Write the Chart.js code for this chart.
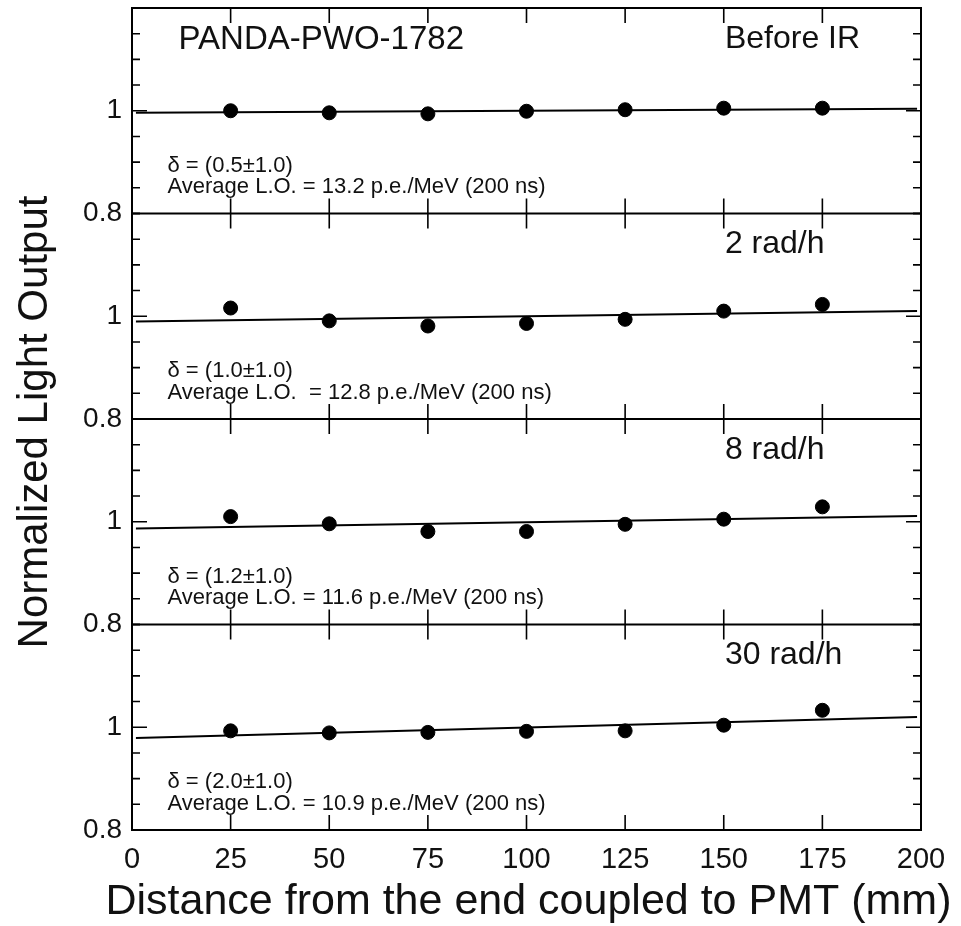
<!DOCTYPE html>
<html>
<head>
<meta charset="utf-8">
<title>Normalized light output</title>
<script src="https://cdn.jsdelivr.net/npm/chart.js@4.4.1/dist/chart.umd.min.js"></script>
<style>
  html, body { margin: 0; padding: 0; background: #fff; }
  #wrap { width: 961px; height: 926px; }
</style>
</head>
<body>
<div id="wrap"><canvas id="lightChart" width="961" height="926"></canvas></div>
<script>
// measured positions along the crystal (mm)
const distances = [25, 50, 75, 100, 125, 150, 175];
const xTicks = [0, 25, 50, 75, 100, 125, 150, 175, 200];
const yTickValues = [0.8, 0.85, 0.9, 0.95, 1.0, 1.05, 1.1, 1.15, 1.2];

// normalized light output, one list per irradiation step (top to bottom)
const beforeIR = [1.000, 0.996, 0.994, 0.999, 1.002, 1.005, 1.005];
const rate2 = [1.016, 0.991, 0.981, 0.986, 0.994, 1.010, 1.023];
const rate8 = [1.010, 0.996, 0.981, 0.981, 0.995, 1.005, 1.029];
const rate30 = [0.993, 0.989, 0.990, 0.992, 0.993, 1.004, 1.033];

// linear fits, values at both ends of the crystal
const fitX = [1, 199];
const fitBeforeIR = [0.996, 1.004];
const fit2 = [0.990, 1.010];
const fit8 = [0.987, 1.011];
const fit30 = [0.979, 1.020];

const panelLabels = ['Before IR', '2 rad/h', '8 rad/h', '30 rad/h'];
const deltaTexts = ['\u03b4 = (0.5\u00b11.0)', '\u03b4 = (1.0\u00b11.0)', '\u03b4 = (1.2\u00b11.0)', '\u03b4 = (2.0\u00b11.0)'];
const avgTexts = [
  'Average L.O. = 13.2 p.e./MeV (200 ns)',
  'Average L.O.  = 12.8 p.e./MeV (200 ns)',
  'Average L.O. = 11.6 p.e./MeV (200 ns)',
  'Average L.O. = 10.9 p.e./MeV (200 ns)'
];
const crystalName = 'PANDA-PWO-1782';
const xTitle = 'Distance from the end coupled to PMT (mm)';
const yTitle = 'Normalized Light Output';

const FONT = '"Liberation Sans", Arial, Helvetica, sans-serif';
const INK = '#111';
const panelIds = ['yA', 'yB', 'yC', 'yD'];
const panelValues = [beforeIR, rate2, rate8, rate30];
const panelFits = [fitBeforeIR, fit2, fit8, fit30];

function yLabel(v) {
  if (Math.abs(v - 1) < 1e-6) return '1';
  if (Math.abs(v - 0.8) < 1e-6) return '0.8';
  return '';
}

function panelAxis() {
  return {
    type: 'linear',
    position: 'left',
    stack: 'panels',
    stackWeight: 1,
    min: 0.8,
    max: 1.2,
    afterBuildTicks: (s) => { s.ticks = yTickValues.map((v) => ({ value: v })); },
    ticks: {
      autoSkip: false,
      padding: 10,
      color: INK,
      font: { size: 28, family: FONT },
      callback: (v) => yLabel(v)
    },
    grid: { display: false, drawTicks: false },
    border: { display: false },
    afterFit: (s) => {
      s.width = 132;
      s.paddingTop = 0;
      s.paddingBottom = 0;
    }
  };
}

const datasets = [];
panelIds.forEach((id, i) => {
  datasets.push({
    type: 'scatter',
    data: distances.map((x, j) => ({ x, y: panelValues[i][j] })),
    yAxisID: id,
    pointRadius: 7,
    pointBorderWidth: 1,
    pointBackgroundColor: '#000',
    pointBorderColor: '#000'
  });
  datasets.push({
    type: 'line',
    data: fitX.map((x, j) => ({ x, y: panelFits[i][j] })),
    yAxisID: id,
    borderColor: '#000',
    borderWidth: 2,
    pointRadius: 0,
    fill: false,
    tension: 0
  });
});

const scales = {
  x: {
    type: 'linear',
    position: 'bottom',
    min: 0,
    max: 200,
    afterBuildTicks: (s) => { s.ticks = xTicks.map((v) => ({ value: v })); },
    ticks: {
      autoSkip: false,
      maxRotation: 0,
      padding: 13,
      color: INK,
      font: { size: 29, family: FONT }
    },
    grid: { display: false, drawTicks: false },
    border: { display: false },
    // the title is wider than the axis, so it is drawn by the plugin below
    title: { display: false },
    afterFit: (s) => {
      s.height = 96;
      s.paddingLeft = 0;
      s.paddingRight = 0;
    }
  }
};
// the layout stacks these bottom-up, so add the lowest panel first
panelIds.slice().reverse().forEach((id) => { scales[id] = panelAxis(); });

// frame, inward ticks and the per-panel texts
const framePlugin = {
  id: 'frame',
  afterDraw(chart) {
    const { ctx, chartArea } = chart;
    const xs = chart.scales.x;
    ctx.save();
    ctx.strokeStyle = '#000';
    ctx.lineWidth = 2;
    ctx.strokeRect(chartArea.left, chartArea.top, chartArea.right - chartArea.left, chartArea.bottom - chartArea.top);

    panelIds.forEach((id, i) => {
      const ys = chart.scales[id];
      // panel separator
      ctx.beginPath();
      ctx.moveTo(chartArea.left, ys.bottom);
      ctx.lineTo(chartArea.right, ys.bottom);
      ctx.stroke();

      ctx.lineWidth = 1.6;
      ctx.beginPath();
      yTickValues.forEach((v) => {
        const y = ys.getPixelForValue(v);
        const len = yLabel(v) === '1' ? 15 : 8;
        ctx.moveTo(chartArea.left, y);
        ctx.lineTo(chartArea.left + len, y);
        ctx.moveTo(chartArea.right, y);
        ctx.lineTo(chartArea.right - len, y);
      });
      xTicks.slice(1, -1).forEach((v) => {
        const x = xs.getPixelForValue(v);
        ctx.moveTo(x, ys.top);
        ctx.lineTo(x, ys.top + 15);
        ctx.moveTo(x, ys.bottom);
        ctx.lineTo(x, ys.bottom - 15);
      });
      ctx.stroke();
      ctx.lineWidth = 2;

      ctx.fillStyle = INK;
      ctx.textBaseline = 'middle';
      ctx.textAlign = 'left';
      ctx.font = '32px ' + FONT;
      ctx.fillText(panelLabels[i], xs.getPixelForValue(150.3), ys.getPixelForValue(1.14));
      if (i === 0) {
        ctx.font = '33px ' + FONT;
        ctx.fillText(crystalName, xs.getPixelForValue(11.8), ys.getPixelForValue(1.138));
      }
      ctx.font = '22px ' + FONT;
      ctx.fillText(deltaTexts[i], xs.getPixelForValue(9), ys.getPixelForValue(0.893));
      ctx.fillText(avgTexts[i], xs.getPixelForValue(9), ys.getPixelForValue(0.851));
    });

    // x title, centred a little right of the axis middle
    ctx.textAlign = 'center';
    ctx.textBaseline = 'middle';
    ctx.font = '43px ' + FONT;
    ctx.fillText(xTitle, xs.getPixelForValue(100.5), xs.bottom - 24);

    // shared y title
    ctx.translate(35, (chartArea.top + chartArea.bottom) / 2 + 3);
    ctx.rotate(-Math.PI / 2);
    ctx.font = '42px ' + FONT;
    ctx.fillText(yTitle, 0, 0);
    ctx.restore();
  }
};

new Chart(document.getElementById('lightChart'), {
  data: { datasets },
  options: {
    responsive: false,
    animation: false,
    layout: { padding: { top: 7, right: 40, left: 0, bottom: 0 } },
    plugins: {
      legend: { display: false },
      tooltip: { enabled: false }
    },
    scales
  },
  plugins: [framePlugin]
});
</script>
</body>
</html>
